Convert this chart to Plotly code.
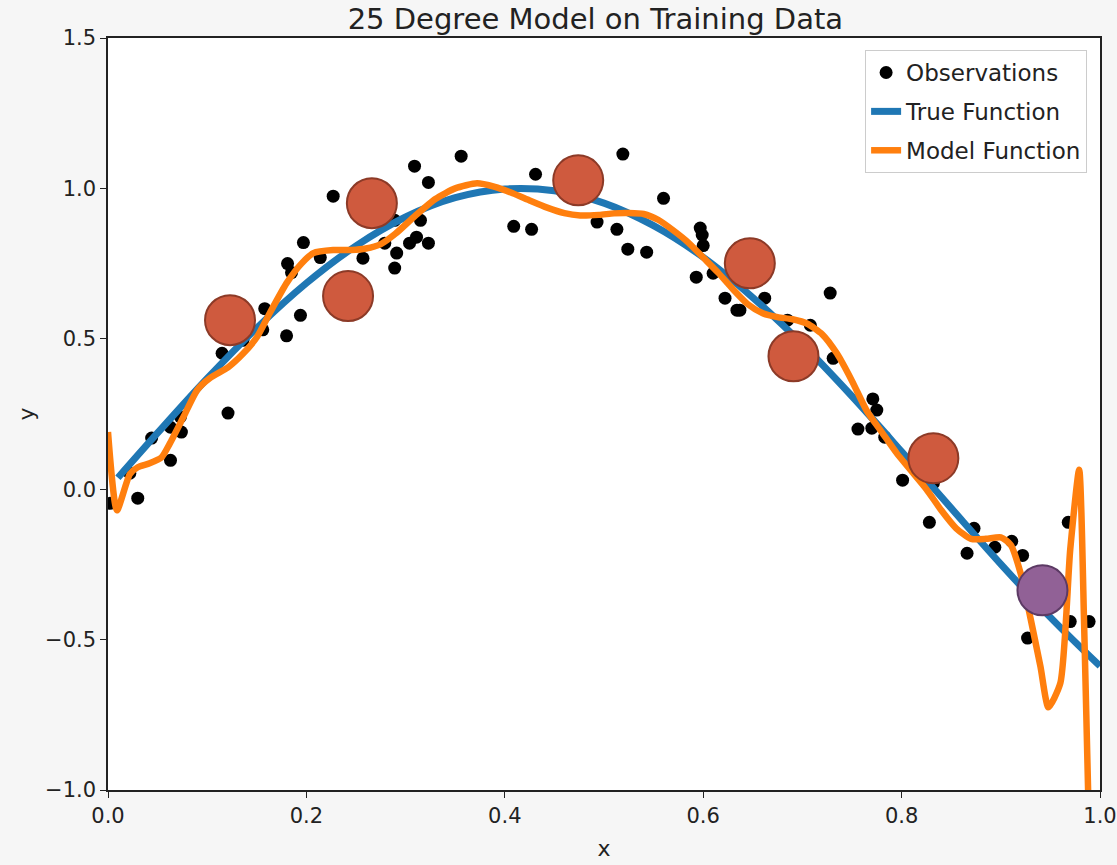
import plotly.graph_objects as go

# ---- data ----
obs_x = [0.002, 0.030, 0.022, 0.044, 0.063, 0.063, 0.074, 0.073, 0.121, 0.115,
         0.136, 0.158, 0.156, 0.180, 0.194, 0.181, 0.185, 0.197, 0.214, 0.227,
         0.257, 0.279, 0.291, 0.289, 0.304, 0.311, 0.323, 0.315, 0.289, 0.309,
         0.323, 0.356, 0.409, 0.427, 0.431, 0.493, 0.513, 0.519, 0.524, 0.543,
         0.560, 0.597, 0.599, 0.600, 0.593, 0.610, 0.622, 0.634, 0.637, 0.662,
         0.728, 0.685, 0.708, 0.731, 0.771, 0.775, 0.756, 0.770, 0.783, 0.801,
         0.832, 0.828, 0.873, 0.866, 0.894, 0.911, 0.922, 0.968, 0.927, 0.970,
         0.989]
obs_y = [-0.047, -0.030, 0.053, 0.170, 0.096, 0.206, 0.190, 0.240, 0.253, 0.452,
         0.495, 0.600, 0.530, 0.510, 0.578, 0.750, 0.720, 0.820, 0.770, 0.974,
         0.768, 0.818, 0.785, 0.735, 0.818, 0.838, 0.818, 0.894, 0.894, 1.074,
         1.020, 1.107, 0.874, 0.864, 1.047, 0.888, 0.864, 1.114, 0.798, 0.788,
         0.967, 0.868, 0.845, 0.810, 0.705, 0.718, 0.635, 0.595, 0.595, 0.635,
         0.652, 0.562, 0.545, 0.435, 0.300, 0.263, 0.200, 0.203, 0.173, 0.030,
         0.020, -0.110, -0.130, -0.213, -0.193, -0.173, -0.220, -0.110, -0.495, -0.440,
         -0.440]

true_x = [0.01, 0.05, 0.10, 0.15, 0.20, 0.25, 0.30, 0.35, 0.40, 0.45, 0.50,
          0.55, 0.60, 0.65, 0.70, 0.75, 0.80, 0.85, 0.90, 0.95, 1.00]
true_y = [0.038, 0.187, 0.368, 0.536, 0.685, 0.809, 0.905, 0.969, 0.998, 0.992, 0.951,
          0.876, 0.771, 0.637, 0.482, 0.309, 0.125, -0.063, -0.249, -0.426, -0.588]

model_x = [0.000, 0.009, 0.022, 0.030, 0.042, 0.054, 0.062, 0.076, 0.090, 0.103,
           0.121, 0.136, 0.150, 0.163, 0.180, 0.195, 0.207, 0.227, 0.245, 0.260,
           0.275, 0.290, 0.310, 0.330, 0.350, 0.372, 0.390, 0.408, 0.425, 0.442,
           0.460, 0.476, 0.495, 0.510, 0.525, 0.540, 0.555, 0.570, 0.585, 0.600,
           0.615, 0.630, 0.645, 0.660, 0.675, 0.690, 0.705, 0.720, 0.735, 0.750,
           0.765, 0.780, 0.795, 0.810, 0.825, 0.840, 0.855, 0.870, 0.885, 0.900,
           0.910, 0.920, 0.930, 0.940, 0.948, 0.960, 0.970, 0.979, 0.984, 0.988,
           0.995, 1.000]
model_y = [0.190, -0.070, 0.050, 0.073, 0.086, 0.106, 0.150, 0.240, 0.330, 0.370,
           0.405, 0.450, 0.505, 0.585, 0.685, 0.750, 0.785, 0.795, 0.795, 0.800,
           0.815, 0.850, 0.910, 0.965, 1.000, 1.017, 1.005, 0.984, 0.960, 0.937,
           0.918, 0.910, 0.912, 0.917, 0.918, 0.915, 0.895, 0.860, 0.820, 0.770,
           0.720, 0.665, 0.615, 0.585, 0.572, 0.565, 0.550, 0.515, 0.450, 0.360,
           0.260, 0.190, 0.120, 0.060, 0.000, -0.070, -0.130, -0.165, -0.165, -0.160,
           -0.185, -0.280, -0.430, -0.590, -0.725, -0.645, -0.200, 0.065, -0.450, -1.000,
           -1.800, -2.500]

red_x = [0.123, 0.266, 0.242, 0.474, 0.647, 0.691, 0.832]
red_y = [0.562, 0.951, 0.642, 1.027, 0.751, 0.442, 0.103]
purple_x = [0.942]
purple_y = [-0.336]

FONT = "DejaVu Sans"

fig = go.Figure()
fig.add_trace(go.Scatter(x=obs_x, y=obs_y, mode="markers", name="Observations",
                         legendgroup="a",
                         marker=dict(color="black", size=13)))
fig.add_trace(go.Scatter(x=true_x, y=true_y, mode="lines", name="True Function",
                         legendgroup="b",
                         line=dict(color="#1f77b4", width=7, shape="spline")))
fig.add_trace(go.Scatter(x=model_x, y=model_y, mode="lines", name="Model Function",
                         legendgroup="c",
                         line=dict(color="#ff7f0e", width=6.5, shape="spline", smoothing=0.6)))
fig.add_trace(go.Scatter(x=red_x, y=red_y, mode="markers", showlegend=False,
                         marker=dict(color="#cf5a3e", size=50,
                                     line=dict(color="#8c3a27", width=2))))
fig.add_trace(go.Scatter(x=purple_x, y=purple_y, mode="markers", showlegend=False,
                         marker=dict(color="#916196", size=50,
                                     line=dict(color="#5c3a64", width=2))))

axis_common = dict(showline=True, linecolor="#222222", linewidth=1.5, mirror=True,
                   ticks="outside", ticklen=6, tickwidth=1.2, tickcolor="#222222",
                   showgrid=False, zeroline=False, automargin=False,
                   tickfont=dict(family=FONT, size=21, color="#222222"))

fig.update_layout(
    width=1117, height=865,
    margin=dict(l=108, r=17, t=38, b=75),
    paper_bgcolor="#f6f6f6", plot_bgcolor="white",
    font=dict(family=FONT, color="#222222"),
    title=dict(text="25 Degree Model on Training Data", x=0.533, xanchor="center",
               y=0.99, yanchor="top", font=dict(family=FONT, size=29, color="#222222")),
    xaxis=dict(range=[0, 1], tickvals=[0, 0.2, 0.4, 0.6, 0.8, 1.0], tickformat=".1f",
               title=dict(text="x", font=dict(family=FONT, size=22), standoff=14),
               **axis_common),
    yaxis=dict(range=[-1, 1.5], tickvals=[-1, -0.5, 0, 0.5, 1.0, 1.5], tickformat=".1f",
               title=dict(text="y", font=dict(family=FONT, size=22), standoff=4),
               **axis_common),
    legend=dict(x=0.987, y=0.984, xanchor="right", yanchor="top",
                bgcolor="white", bordercolor="#cccccc", borderwidth=1,
                tracegroupgap=6,
                font=dict(family=FONT, size=23, color="#222222")),
    showlegend=True,
)

fig.write_html("out.html")
